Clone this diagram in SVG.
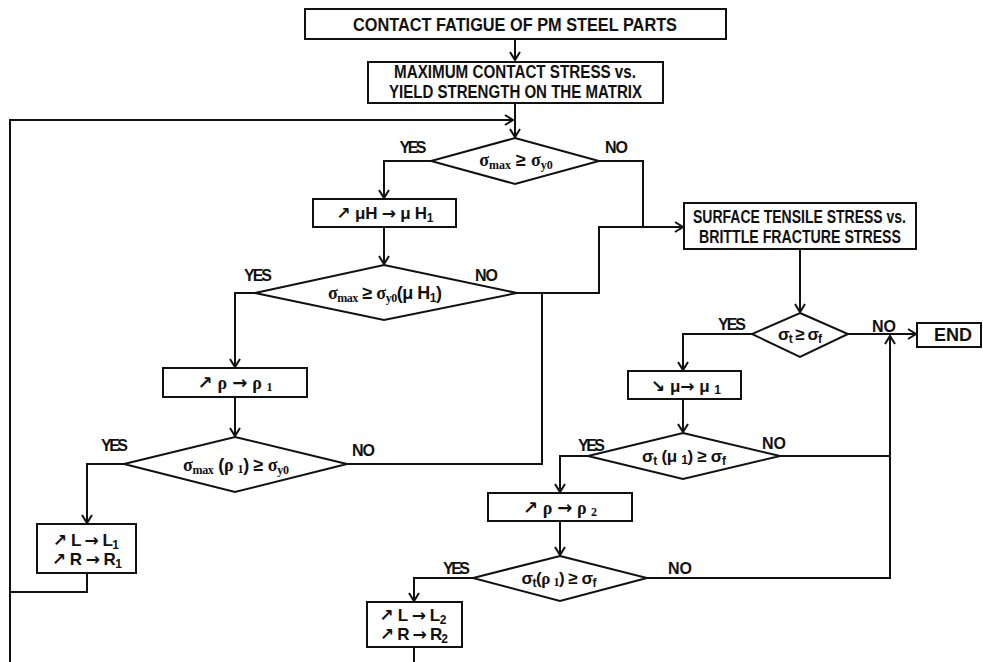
<svg xmlns="http://www.w3.org/2000/svg" width="983" height="662" viewBox="0 0 983 662">
<style>
.box{fill:#fff;stroke:#111;stroke-width:2}
.c{fill:none;stroke:#111;stroke-width:2}
.t{font-family:"Liberation Sans",Arial,sans-serif;font-weight:bold;fill:#111;text-anchor:middle}
.big{font-size:18px}
.lbl{font-size:16px}
.s{font-family:"Liberation Serif","Times New Roman",serif;font-weight:bold}
.sub{font-size:12px}
.a{font-family:"DejaVu Sans",sans-serif;font-weight:bold}
</style>
<defs>
<marker id="ar" markerUnits="userSpaceOnUse" markerWidth="14" markerHeight="14" viewBox="-10 -7 12 14" refX="0" refY="0" orient="auto">
<path d="M-8,-5 L0,0 L-8,5" fill="none" stroke="#111" stroke-width="2"/>
</marker>
</defs>
<rect width="983" height="662" fill="#fff"/>
<g id="connectors">
<path class="c" d="M515,39 V60" marker-end="url(#ar)"/>
<path class="c" d="M515,103 V137" marker-end="url(#ar)"/>
<path class="c" d="M10,662 V120 H513" marker-end="url(#ar)"/>
<path class="c" d="M431,161 H384 V198" marker-end="url(#ar)"/>
<path class="c" d="M384,227 V264" marker-end="url(#ar)"/>
<path class="c" d="M599,161 H643 V227"/>
<path class="c" d="M517,293 H599 V227 H683" marker-end="url(#ar)"/>
<path class="c" d="M347,464 H542 V293"/>
<path class="c" d="M255,293 H235 V367" marker-end="url(#ar)"/>
<path class="c" d="M235,397 V436" marker-end="url(#ar)"/>
<path class="c" d="M124,464 H87 V523" marker-end="url(#ar)"/>
<path class="c" d="M87,573 V592 H10"/>
<path class="c" d="M800,249 V312" marker-end="url(#ar)"/>
<path class="c" d="M848,334 H916" marker-end="url(#ar)"/>
<path class="c" d="M752,334 H683 V370" marker-end="url(#ar)"/>
<path class="c" d="M683,399 V432" marker-end="url(#ar)"/>
<path class="c" d="M780,456 H890"/>
<path class="c" d="M647,578 H890 V336" marker-end="url(#ar)"/>
<path class="c" d="M588,456 H560 V492" marker-end="url(#ar)"/>
<path class="c" d="M560,521 V555" marker-end="url(#ar)"/>
<path class="c" d="M473,578 H414 V601" marker-end="url(#ar)"/>
<path class="c" d="M414,647 V662"/>
</g>
<g id="n_title">
<rect class="box" x="305" y="9" width="421" height="30"/>
<text class="t" x="515" y="31" font-size="19" textLength="324" lengthAdjust="spacingAndGlyphs">CONTACT FATIGUE OF PM STEEL PARTS</text>
</g>
<g id="n_maxstress">
<rect class="box" x="368" y="62" width="295" height="41"/>
<text class="t big" x="515" y="78" textLength="242" lengthAdjust="spacingAndGlyphs">MAXIMUM CONTACT STRESS vs.</text>
<text class="t big" x="515.5" y="98" textLength="253" lengthAdjust="spacingAndGlyphs">YIELD STRENGTH ON THE MATRIX</text>
</g>
<g id="n_d1">
<polygon class="box" points="515,138 599,161 515,184 431,161"/>
<text class="t" x="516" y="166" font-size="18"><tspan class="s">σ</tspan><tspan class="s sub" dy="3">max</tspan><tspan dy="-3"> ≥ </tspan><tspan class="s">σ</tspan><tspan class="s sub" dy="3">y0</tspan></text>
</g>
<g id="n_muH">
<rect class="box" x="313" y="199" width="143" height="28"/>
<text class="t" x="385" y="219" font-size="17" textLength="97"><tspan class="a">↗</tspan> μH <tspan class="a">→</tspan> μ H<tspan class="sub" dy="3">1</tspan></text>
</g>
<g id="n_d2">
<polygon class="box" points="384,265 517,293 384,320 255,293"/>
<text class="t" x="385" y="299" font-size="18" textLength="114"><tspan class="s">σ</tspan><tspan class="s sub" dy="3">max</tspan><tspan dy="-3"> ≥ </tspan><tspan class="s">σ</tspan><tspan class="s sub" dy="3">y0</tspan><tspan dy="-3">(μ H</tspan><tspan class="sub" dy="3">1</tspan><tspan dy="-3">)</tspan></text>
</g>
<g id="n_rho1">
<rect class="box" x="163" y="368" width="144" height="29"/>
<text class="t" x="235" y="389" font-size="18" textLength="75"><tspan class="a">↗</tspan> <tspan class="s">ρ</tspan> <tspan class="a">→</tspan> <tspan class="s">ρ </tspan><tspan class="s sub" dy="2">1</tspan></text>
</g>
<g id="n_d3">
<polygon class="box" points="235,437 347,464 235,492 124,464"/>
<text class="t" x="236" y="471" font-size="18" textLength="106"><tspan class="s">σ</tspan><tspan class="s sub" dy="3">max</tspan><tspan dy="-3"> (</tspan><tspan class="s">ρ </tspan><tspan class="s sub" dy="2">1</tspan><tspan dy="-2">) ≥ </tspan><tspan class="s">σ</tspan><tspan class="s sub" dy="3">y0</tspan></text>
</g>
<g id="n_LR1">
<rect class="box" x="37" y="524" width="99" height="49"/>
<text class="t" x="86" y="546" font-size="17" textLength="66"><tspan class="a">↗</tspan> L <tspan class="a">→</tspan> L<tspan class="sub" dy="3">1</tspan></text>
<text class="t" x="87" y="565" font-size="17" textLength="70"><tspan class="a">↗</tspan> R <tspan class="a">→</tspan> R<tspan class="sub" dy="3">1</tspan></text>
</g>
<g id="n_surface">
<rect class="box" x="684" y="203" width="232" height="46"/>
<text class="t big" x="799.5" y="223" textLength="213" lengthAdjust="spacingAndGlyphs">SURFACE TENSILE STRESS vs.</text>
<text class="t big" x="800" y="243" textLength="202" lengthAdjust="spacingAndGlyphs">BRITTLE FRACTURE STRESS</text>
</g>
<g id="n_d4">
<polygon class="box" points="800,313 848,334 800,357 752,334"/>
<text class="t" x="800" y="340" font-size="17" textLength="44">σ<tspan class="sub" dy="3">t</tspan><tspan dy="-3"> ≥ σ</tspan><tspan class="sub" dy="3">f</tspan></text>
</g>
<g id="n_end">
<rect class="box" x="917" y="323" width="64" height="24"/>
<text class="t big" x="953" y="341">END</text>
</g>
<g id="n_mu1">
<rect class="box" x="628" y="371" width="113" height="28"/>
<text class="t" x="686" y="392" font-size="17" textLength="70"><tspan class="a">↘</tspan> μ<tspan class="a">→</tspan> μ <tspan class="sub" dy="2">1</tspan></text>
</g>
<g id="n_d5">
<polygon class="box" points="683,433 780,456 683,479 588,456"/>
<text class="t" x="684" y="462" font-size="17" textLength="84">σ<tspan class="sub" dy="3">t</tspan><tspan dy="-3"> (μ </tspan><tspan class="sub" dy="2">1</tspan><tspan dy="-2">) ≥ σ</tspan><tspan class="sub" dy="3">f</tspan></text>
</g>
<g id="n_rho2">
<rect class="box" x="488" y="493" width="144" height="28"/>
<text class="t" x="560" y="514" font-size="18" textLength="74"><tspan class="a">↗</tspan> <tspan class="s">ρ</tspan> <tspan class="a">→</tspan> <tspan class="s">ρ </tspan><tspan class="s sub" dy="2">2</tspan></text>
</g>
<g id="n_d6">
<polygon class="box" points="560,556 647,578 560,601 473,578"/>
<text class="t" x="559" y="584" font-size="17" textLength="75">σ<tspan class="sub" dy="3">t</tspan><tspan dy="-3">(</tspan><tspan class="s">ρ </tspan><tspan class="s sub" dy="2">1</tspan><tspan dy="-2">) ≥ σ</tspan><tspan class="sub" dy="3">f</tspan></text>
</g>
<g id="n_LR2">
<rect class="box" x="367" y="602" width="95" height="45"/>
<text class="t" x="413" y="621" font-size="17" textLength="67"><tspan class="a">↗</tspan> L <tspan class="a">→</tspan> L<tspan class="sub" dy="3">2</tspan></text>
<text class="t" x="414" y="640" font-size="17" textLength="68"><tspan class="a">↗</tspan> R <tspan class="a">→</tspan> R<tspan class="sub" dy="3">2</tspan></text>
</g>
<g id="labels">
<text class="t lbl" x="413" y="153" textLength="27">YES</text>
<text class="t lbl" x="616.5" y="153" textLength="23">NO</text>
<text class="t lbl" x="258" y="281" textLength="28">YES</text>
<text class="t lbl" x="486.5" y="281" textLength="23">NO</text>
<text class="t lbl" x="114.5" y="451" textLength="27">YES</text>
<text class="t lbl" x="363.5" y="456" textLength="23">NO</text>
<text class="t lbl" x="732" y="330" textLength="28">YES</text>
<text class="t lbl" x="884" y="332" textLength="24">NO</text>
<text class="t lbl" x="591.5" y="451" textLength="27">YES</text>
<text class="t lbl" x="774" y="449" textLength="24">NO</text>
<text class="t lbl" x="456.5" y="574" textLength="27">YES</text>
<text class="t lbl" x="680" y="574" textLength="24">NO</text>
</g>
</svg>
